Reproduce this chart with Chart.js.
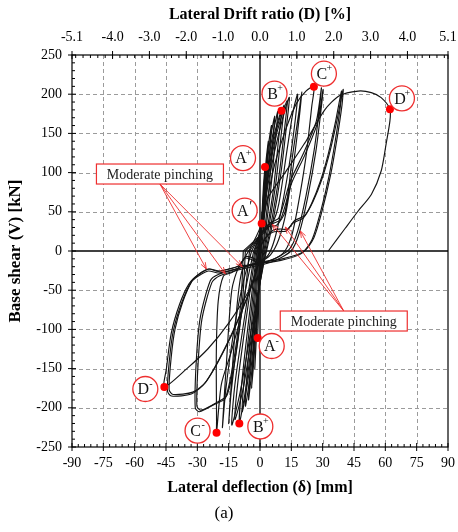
<!DOCTYPE html>
<html>
<head>
<meta charset="utf-8">
<script src="https://cdn.jsdelivr.net/npm/chart.js@4/dist/chart.umd.min.js"></script>
<style>
  html, body { margin: 0; padding: 0; background: #fff; }
  canvas { display: block; }
</style>
</head>
<body>
<canvas id="hyst" width="458" height="532"></canvas>
<script>
// axis ticks
const xTicks = [-90, -75, -60, -45, -30, -15, 0, 15, 30, 45, 60, 75, 90];
const yTicks = [-250, -200, -150, -100, -50, 0, 50, 100, 150, 200, 250];
const driftTicks = [-5.1, -4.0, -3.0, -2.0, -1.0, 0.0, 1.0, 2.0, 3.0, 4.0, 5.1];

// hysteresis cycles, [deflection mm, base shear kN]
const cycle1 = [[0,0],[0.5,28],[1.0,50],[0.7,32],[0.2,8],[-0.3,-25],[-0.8,-60],[-0.5,-38],[0,0]];
const cycle2 = [[0,0],[0.9,45],[1.7,85],[2.4,107],[1.9,80],[1.0,40],[0.2,5],[-0.4,-40],[-0.8,-85],[-1.1,-111],[-0.9,-85],[-0.4,-40],[0,0]];
const cycle3 = [[-0.2,0],[0.8,35],[2.0,85],[3.0,118],[4.0,140],[3.3,110],[2.0,60],[0.8,20],[-0.2,-25],[-1.2,-80],[-2.0,-125],[-2.5,-150],[-2.0,-120],[-1.2,-70],[-0.2,0]];
const cycle4 = [[-0.4,0],[0.8,35],[2.2,85],[3.8,130],[5.5,160],[4.6,125],[3.0,70],[1.5,25],[0,-25],[-1.5,-85],[-2.8,-135],[-4.0,-175],[-3.3,-135],[-2.0,-70],[-0.4,0]];
const cycle5 = [[-0.6,0],[0.8,35],[2.5,85],[4.5,135],[7.0,172],[6.0,135],[4.2,75],[2.2,25],[0.3,-25],[-1.8,-90],[-3.8,-150],[-5.5,-190],[-4.6,-145],[-2.8,-75],[-0.6,0]];
const cycle6 = [[-0.9,0],[0.8,35],[2.8,85],[5.2,135],[8.5,178],[7.3,140],[5.2,80],[2.8,28],[0.5,-20],[-2.2,-90],[-4.5,-155],[-7.0,-198],[-6.0,-150],[-3.6,-80],[-0.9,0]];
const cycle7 = [[-1.2,0],[0.8,35],[3.2,90],[6.5,145],[10.3,179],[8.8,140],[6.5,80],[3.5,28],[0.5,-25],[-2.8,-95],[-5.5,-160],[-8.5,-205],[-7.3,-155],[-4.5,-85],[-1.2,0]];
const cycle8 = [[-1.5,0],[0.8,35],[3.5,90],[7.0,145],[11.5,186],[10.0,145],[7.5,85],[4.2,30],[0.8,-25],[-3.2,-100],[-6.5,-170],[-9.9,-220],[-8.6,-165],[-5.5,-90],[-1.5,0]];
const cycle9 = [[-2,0],[0.8,35],[4,95],[8,150],[13,192],[11.5,150],[8.8,90],[5,30],[1,-25],[-3.8,-105],[-8,-175],[-12,-215],[-10.5,-165],[-6.8,-90],[-2,0]];
const cycle10 = [[-2.5,0],[0.8,35],[4.5,95],[9,150],[14,196],[12.5,155],[9.8,95],[6,35],[1.5,-20],[-4.5,-105],[-9.5,-180],[-13.5,-222],[-12,-170],[-8,-95],[-2.5,0]];
const cycle11 = [[-3,0],[0,20],[3,32],[6,36],[9,60],[13,130],[16,180],[18,200],[17,170],[14,110],[10,50],[7,15],[4,-5],[0,-14],[-5,-18],[-8.5,-24],[-11,-70],[-13.5,-160],[-15,-220],[-13.8,-180],[-10.5,-110],[-7,-50],[-3,0]];
const cycle12 = [[-4,0],[0,20],[4,31],[8,33],[12,50],[15.5,120],[18.5,175],[20,203],[19,175],[16,110],[12.5,50],[9,15],[5,-5],[0,-14],[-6,-18],[-10,-20],[-13.5,-50],[-16,-140],[-18,-225],[-16.5,-180],[-13,-110],[-8.5,-45],[-4,0]];
const cycle13 = [[-5,0],[0,22],[3,60],[7,110],[12.6,157],[17.4,188],[22,204],[25.8,210],[24.8,185],[22,120],[18,55],[15,18],[11,-3],[3,-14],[-8,-20],[-14,-28],[-17.5,-32],[-20,-64],[-20.9,-128],[-20.8,-217],[-20.8,-232],[-18.5,-170],[-13.7,-128],[-8,-70],[-5,0]];
const cycle14 = [[-8,0],[0,20],[5,36],[9,42],[14.5,89],[20.7,124],[27,166],[29.4,208],[28.6,185],[26,130],[22,70],[18,25],[14,2],[5,-12],[-10,-22],[-20,-30],[-23.8,-38],[-28.6,-85],[-30.5,-140],[-31,-200],[-29,-205],[-21.4,-195],[-16.6,-188],[-12,-130],[-9,-60],[-8,0]];
const cycle14b = [[-7,0],[0,18],[5.5,34],[9.8,40],[15.2,87],[21.4,122],[27.6,164],[30.2,206],[29.4,184],[26.8,128],[22.8,68],[18.8,23],[14.8,0],[5.5,-14],[-10,-24],[-19.5,-32],[-23,-40],[-27.8,-87],[-29.6,-142],[-30.2,-198],[-28.2,-203],[-20.6,-193],[-15.8,-184],[-11.2,-126],[-8.2,-58],[-7,0]];
const cycle15 = [[0,5],[3,18],[6,24],[9,25],[12.6,25.5],[16,36],[20.7,42],[24.6,60],[28.9,89],[32.7,124],[36,163],[39,204],[38.5,185],[36,140],[33,95],[29,50],[25,15],[20,-3],[10,-12],[0,-15],[-7,-9],[-10.4,-21.7],[-15,-25.5],[-20,-28],[-24.7,-25.5],[-29.5,-32],[-33,-40],[-37.7,-67.6],[-41.5,-102],[-43.4,-140],[-44.3,-178.6],[-42.4,-185],[-32.9,-182.4],[-26.2,-168],[-15.2,-115],[-5.6,-55],[-1.8,-25],[0.5,10]];
const cycle15b = [[0.5,8],[3.6,20],[6.6,27],[9.6,28],[13.2,28],[16.6,39],[21.4,45],[25.4,63],[29.7,92],[33.5,127],[36.8,166],[39.8,206],[39.3,187],[36.8,142],[33.8,97],[29.8,52],[25.8,17],[20.8,-1],[10.6,-10],[0.6,-13],[-6.5,-7],[-10,-19],[-14.6,-23],[-19.6,-25.5],[-24.3,-23],[-29,-29.5],[-32.4,-37.5],[-37,-65],[-40.7,-100],[-42.6,-138],[-43.5,-177],[-41.6,-183],[-32.2,-180],[-25.6,-166],[-14.6,-113],[-5.1,-53],[-1.3,-23],[1,12]];
const finalCycle = [[-1.8,-25],[-5.6,-52],[-15,-92],[-25,-125],[-35,-150],[-45.8,-173.5],[-44.8,-150],[-42.5,-105],[-38.5,-68],[-34,-42],[-29.5,-30],[-24.7,-23],[-20,-26],[-15,-23],[-10.4,-19],[-7,-7],[-3,12],[0.8,35],[3.7,67],[12,100],[22,140],[31,180],[38,198],[47,204],[53.3,202],[58,195.6],[62.2,181],[62.2,166],[60.4,137],[58,102],[53.3,72],[47,51],[40.8,29],[32.7,0]];

const cycles = [cycle1, cycle2, cycle3, cycle4, cycle5, cycle6, cycle7, cycle8, cycle9, cycle10,
  cycle11, cycle12, cycle13, cycle14, cycle14b, cycle15, cycle15b, finalCycle];

// marked states
const keyX = [2.4, 0.8, 10.3, 25.8, 62.2, -1.1, -9.9, -20.8, -45.8];
const keyY = [107, 35, 179, 209.6, 180.7, -111, -220, -231.7, -173.5];
const keyBase = ['A', 'A', 'B', 'C', 'D', 'A', 'B', 'C', 'D'];
const keySup = ['+', '\u2032', '+', '+', '+', '-', '+', '-', '-'];
// label bubble offset from its point, px
const keyOffset = [[-22, -9], [-17, -13], [-7, -17], [10, -13], [12, -11], [14, 8], [21, 3], [-19, -2], [-19, 2]];

// "Moderate pinching" call-outs
const noteText = 'Moderate pinching';
const noteX = [-47.9, 40.1];
const noteY = [98.2, -89.3];
const noteTipX = [[-25.7, -16.6, -8.5], [5.9, 12.1, 19.3]];
const noteTipY = [[-23, -29, -20], [34, 30.6, 25.5]];

const SERIF = '"Liberation Serif", "Times New Roman", serif';
const RED = '#ee2f2f';
Chart.defaults.font.family = SERIF;
Chart.defaults.color = '#000';

const framePlugin = {
  id: 'frame',
  beforeDatasetsDraw(chart) {
    const { ctx, chartArea: a } = chart;
    const x = chart.scales.x, y = chart.scales.y, x2 = chart.scales.x2;
    ctx.save();
    // dashed grid
    ctx.setLineDash([4, 3]);
    ctx.strokeStyle = '#9b9b9b';
    ctx.lineWidth = 1;
    xTicks.forEach(v => {
      if (v === 0 || v === -90 || v === 90) return;
      const px = Math.round(x.getPixelForValue(v)) + 0.5;
      ctx.beginPath(); ctx.moveTo(px, a.top); ctx.lineTo(px, a.bottom); ctx.stroke();
    });
    yTicks.forEach(v => {
      if (v === 0 || v === -250 || v === 250) return;
      const py = Math.round(y.getPixelForValue(v)) + 0.5;
      ctx.beginPath(); ctx.moveTo(a.left, py); ctx.lineTo(a.right, py); ctx.stroke();
    });
    ctx.setLineDash([]);
    // axes through origin and frame
    ctx.strokeStyle = '#000';
    ctx.lineWidth = 1.3;
    const x0 = x.getPixelForValue(0), y0 = y.getPixelForValue(0);
    ctx.beginPath(); ctx.moveTo(x0, a.top); ctx.lineTo(x0, a.bottom); ctx.stroke();
    ctx.beginPath(); ctx.moveTo(a.left, y0); ctx.lineTo(a.right, y0); ctx.stroke();
    ctx.lineWidth = 1.2;
    ctx.strokeRect(a.left, a.top, a.right - a.left, a.bottom - a.top);
    // tick marks
    ctx.lineWidth = 1;
    ctx.beginPath();
    for (let i = -30; i <= 30; i++) {
      const px = x.getPixelForValue(i * 3);
      if (i % 5 === 0) { ctx.moveTo(px, a.bottom - 4); ctx.lineTo(px, a.bottom + 4); }
      else { ctx.moveTo(px, a.bottom - 3); ctx.lineTo(px, a.bottom); }
    }
    for (let i = -25; i <= 25; i++) {
      const py = y.getPixelForValue(i * 10);
      if (i % 5 === 0) { ctx.moveTo(a.left - 4, py); ctx.lineTo(a.left + 4, py); }
      else { ctx.moveTo(a.left, py); ctx.lineTo(a.left + 3, py); }
    }
    for (let i = -25; i <= 25; i++) {
      const px = x2.getPixelForValue(i * 0.2);
      ctx.moveTo(px, a.top); ctx.lineTo(px, a.top + 3);
    }
    driftTicks.forEach(v => {
      const px = x2.getPixelForValue(v);
      ctx.moveTo(px, a.top - 4); ctx.lineTo(px, a.top + 4);
    });
    ctx.stroke();
    ctx.restore();
  },
  afterDatasetsDraw(chart) {
    const { ctx } = chart;
    const x = chart.scales.x, y = chart.scales.y;
    ctx.save();
    // call-out boxes with arrows
    const bw = 127, bh = 20;
    noteX.forEach((nx, k) => {
      const cx = x.getPixelForValue(nx), cy = y.getPixelForValue(noteY[k]);
      const ox = cx, oy = k === 0 ? cy + bh / 2 : cy - bh / 2;
      ctx.strokeStyle = RED;
      ctx.lineWidth = 0.9;
      noteTipX[k].forEach((tx, j) => {
        const px = x.getPixelForValue(tx), py = y.getPixelForValue(noteTipY[k][j]);
        const ang = Math.atan2(py - oy, px - ox);
        ctx.beginPath();
        ctx.moveTo(ox, oy); ctx.lineTo(px, py);
        ctx.moveTo(px, py); ctx.lineTo(px - 7 * Math.cos(ang - 0.35), py - 7 * Math.sin(ang - 0.35));
        ctx.moveTo(px, py); ctx.lineTo(px - 7 * Math.cos(ang + 0.35), py - 7 * Math.sin(ang + 0.35));
        ctx.stroke();
      });
      ctx.fillStyle = '#fff';
      ctx.fillRect(cx - bw / 2, cy - bh / 2, bw, bh);
      ctx.lineWidth = 1.2;
      ctx.strokeRect(cx - bw / 2, cy - bh / 2, bw, bh);
      ctx.fillStyle = '#222';
      ctx.font = '14px ' + SERIF;
      ctx.textAlign = 'center';
      ctx.textBaseline = 'middle';
      ctx.fillText(noteText, cx, cy + 1);
    });
    // state bubbles
    keyX.forEach((kx, i) => {
      const cx = x.getPixelForValue(kx) + keyOffset[i][0];
      const cy = y.getPixelForValue(keyY[i]) + keyOffset[i][1];
      ctx.beginPath();
      ctx.arc(cx, cy, 12.5, 0, Math.PI * 2);
      ctx.fillStyle = '#fff';
      ctx.fill();
      ctx.strokeStyle = RED;
      ctx.lineWidth = 1.3;
      ctx.stroke();
      ctx.fillStyle = '#111';
      ctx.font = '16px ' + SERIF;
      ctx.textAlign = 'center';
      ctx.textBaseline = 'middle';
      ctx.fillText(keyBase[i], cx - 2, cy + 1);
      const prime = keySup[i] === '\u2032';
      ctx.font = (prime ? '14px ' : '10px ') + SERIF;
      ctx.fillText(keySup[i], cx + (prime ? 6 : 5.5), cy - (prime ? 3 : 5));
    });
    ctx.restore();
  }
};

const datasets = [{
  data: keyX.map((v, i) => ({ x: v, y: keyY[i] })),
  showLine: false,
  pointRadius: 4,
  pointBackgroundColor: '#ff0000',
  pointBorderWidth: 0
}].concat(cycles.map(c => ({
  data: c.map(p => ({ x: p[0], y: p[1] })),
  showLine: true,
  borderColor: '#141414',
  borderWidth: 1.15,
  pointRadius: 0,
  tension: 0.25,
  fill: false
})));

const tickFont = { family: SERIF, size: 14 };
const titleFont = { family: SERIF, size: 16, weight: 'bold' };

// keep the plot box fixed: no extra room for overhanging end labels
const fixHorizontal = h => s => { s.height = h; s.paddingLeft = 0; s.paddingRight = 0; };

new Chart(document.getElementById('hyst'), {
  type: 'scatter',
  data: { datasets },
  options: {
    responsive: false,
    animation: false,
    devicePixelRatio: 1,
    layout: { padding: { left: 0, right: 10, top: 0, bottom: 0 } },
    plugins: {
      legend: { display: false },
      tooltip: { enabled: false },
      title: {
        display: true, position: 'bottom', text: '(a)', color: '#000',
        font: { family: SERIF, size: 17, weight: 'normal' },
        padding: { top: 0, bottom: 8 }
      }
    },
    scales: {
      x: {
        type: 'linear', position: 'bottom', min: -90, max: 90,
        afterBuildTicks: s => { s.ticks = xTicks.map(v => ({ value: v })); },
        afterFit: fixHorizontal(56.6),
        grid: { display: false, drawTicks: false },
        border: { display: false },
        ticks: { font: tickFont, color: '#000', padding: 7.6, maxRotation: 0, autoSkip: false },
        title: { display: true, text: 'Lateral deflection (δ) [mm]', font: titleFont, color: '#000', padding: { top: 0, bottom: 6 } }
      },
      x2: {
        type: 'linear', position: 'top', min: -5.1, max: 5.1,
        afterBuildTicks: s => { s.ticks = driftTicks.map(v => ({ value: v })); },
        afterFit: fixHorizontal(55),
        grid: { display: false, drawTicks: false },
        border: { display: false },
        ticks: { font: tickFont, color: '#000', padding: 9, maxRotation: 0, autoSkip: false, callback: v => v.toFixed(1) },
        title: { display: true, text: 'Lateral Drift ratio (D) [%]', font: titleFont, color: '#000', padding: { top: 5, bottom: 0 } }
      },
      y: {
        type: 'linear', position: 'left', min: -250, max: 250,
        afterBuildTicks: s => { s.ticks = yTicks.map(v => ({ value: v })); },
        afterFit: s => { s.width = 72; s.paddingTop = 0; s.paddingBottom = 0; },
        grid: { display: false, drawTicks: false },
        border: { display: false },
        ticks: { font: tickFont, color: '#000', padding: 10, autoSkip: false },
        title: { display: true, text: 'Base shear (V) [kN]', font: { family: SERIF, size: 17, weight: 'bold' }, color: '#000', padding: { top: 5, bottom: 0 } }
      }
    }
  },
  plugins: [framePlugin]
});
</script>
</body>
</html>
